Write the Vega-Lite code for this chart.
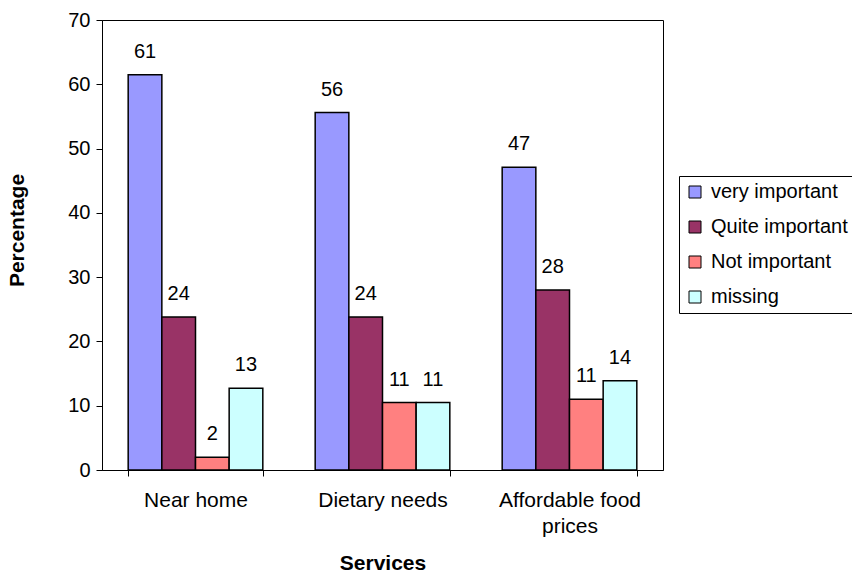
{
  "$schema": "https://vega.github.io/schema/vega-lite/v6.json",
  "width": 561,
  "height": 450,
  "autosize": {"type": "none"},
  "padding": {"left": 102, "top": 20, "right": 189, "bottom": 106},
  "background": "white",
  "config": {
    "font": "Liberation Sans",
    "view": {"stroke": "black", "strokeWidth": 1}
  },
  "data": {
    "values": [
      {"service": "Near home", "category": "very important", "value": 61.5, "label": "61"},
      {"service": "Near home", "category": "Quite important", "value": 23.8, "label": "24"},
      {"service": "Near home", "category": "Not important", "value": 2.0, "label": "2"},
      {"service": "Near home", "category": "missing", "value": 12.7, "label": "13"},
      {"service": "Dietary needs", "category": "very important", "value": 55.6, "label": "56"},
      {"service": "Dietary needs", "category": "Quite important", "value": 23.8, "label": "24"},
      {"service": "Dietary needs", "category": "Not important", "value": 10.5, "label": "11"},
      {"service": "Dietary needs", "category": "missing", "value": 10.5, "label": "11"},
      {"service": "Affordable food prices", "category": "very important", "value": 47.1, "label": "47"},
      {"service": "Affordable food prices", "category": "Quite important", "value": 28.0, "label": "28"},
      {"service": "Affordable food prices", "category": "Not important", "value": 11.0, "label": "11"},
      {"service": "Affordable food prices", "category": "missing", "value": 13.9, "label": "14"}
    ]
  },
  "encoding": {
    "x": {
      "field": "service", "type": "nominal", "sort": ["Near home", "Dietary needs", "Affordable food prices"],
      "scale": {"paddingInner": 0.28, "paddingOuter": 0.14},
      "axis": {
        "title": "Services", "titleFontSize": 21, "titleFontWeight": "bold", "titleColor": "black",
        "titlePadding": 16,
        "labelAngle": 0, "labelFontSize": 21, "labelColor": "black", "labelPadding": 13, "labelLineHeight": 26,
        "labelExpr": "datum.label == 'Affordable food prices' ? ['Affordable food', 'prices'] : datum.label",
        "tickBand": "extent", "tickColor": "black", "tickSize": 6, "domainColor": "black"
      }
    },
    "xOffset": {"field": "category", "type": "nominal", "sort": ["very important", "Quite important", "Not important", "missing"], "scale": {"paddingInner": 0, "paddingOuter": 0}},
    "y": {
      "field": "value", "type": "quantitative",
      "scale": {"domain": [0, 70], "nice": false},
      "axis": {
        "title": "Percentage", "titleFontSize": 21, "titleFontWeight": "bold", "titleColor": "black",
        "titleX": -75, "titleY": 210,
        "values": [0, 10, 20, 30, 40, 50, 60, 70], "grid": false,
        "labelFontSize": 20, "labelColor": "black", "labelPadding": 6,
        "tickColor": "black", "tickSize": 6, "domainColor": "black"
      }
    }
  },
  "layer": [
    {
      "mark": {"type": "bar", "stroke": "black", "strokeWidth": 1.5},
      "encoding": {
        "color": {
          "field": "category", "type": "nominal",
          "sort": ["very important", "Quite important", "Not important", "missing"],
          "scale": {"domain": ["very important", "Quite important", "Not important", "missing"], "range": ["#9999FF", "#993366", "#FF8080", "#CCFFFF"]},
          "legend": {
            "title": null, "orient": "none", "legendX": 577, "legendY": 156,
            "symbolType": "square", "symbolSize": 144, "symbolStrokeColor": "black", "symbolStrokeWidth": 1, "symbolOpacity": 1,
            "labelFontSize": 20, "labelColor": "black", "labelOffset": 6, "rowPadding": 15,
            "strokeColor": "black", "padding": 6, "labelLimit": 300
          }
        }
      }
    },
    {
      "mark": {"type": "text", "fontSize": 20, "color": "black", "baseline": "alphabetic", "dy": -17},
      "encoding": {"text": {"field": "label"}}
    }
  ]
}
